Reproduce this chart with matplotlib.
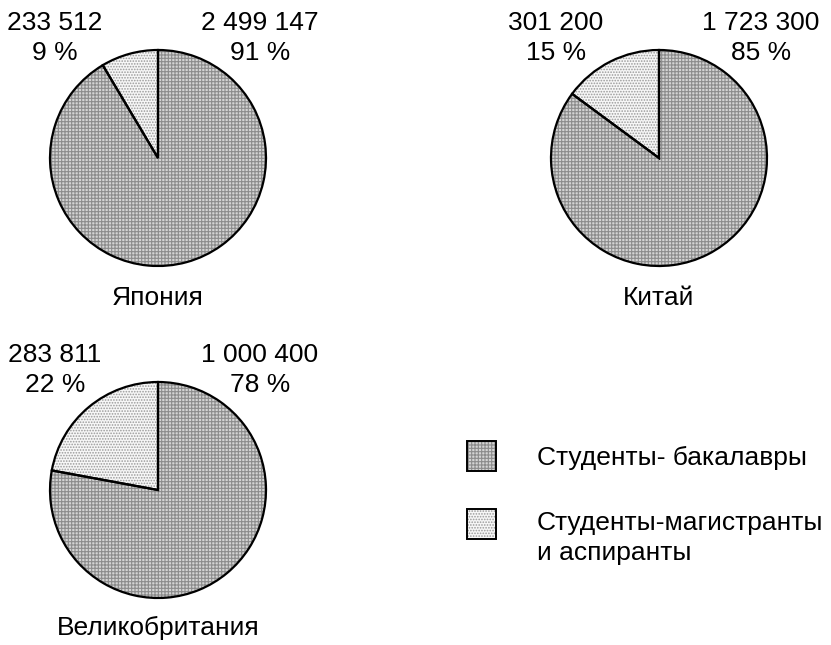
import matplotlib.pyplot as plt
from matplotlib.patches import Rectangle

plt.rcParams['font.family'] = ['Liberation Sans', 'DejaVu Sans']
plt.rcParams['hatch.linewidth'] = 0.8

# данные
countries = ["Япония", "Китай", "Великобритания"]
bachelors = [2499147, 1723300, 1000400]
masters = [233512, 301200, 283811]
bach_pct = [91, 85, 78]
mast_pct = [9, 15, 22]
legend_labels = ["Студенты- бакалавры", "Студенты-магистранты\nи аспиранты"]

def fmt(n):
    return f"{n:,}".replace(",", " ")

W, H = 831, 645
fig = plt.figure(figsize=(W / 100, H / 100), dpi=100)
ax = fig.add_axes([0, 0, 1, 1])

centers = [(158, 158), (659, 158), (158, 490)]
name_y = [298, 298, 628]
R = 108
col_b = '#d4d4d4'
col_m = '#f7f7f7'
hatch_b = '#8c8c8c'
hatch_m = '#9a9a9a'
FS = 19
LS = 1.3

for i, (cx, cy) in enumerate(centers):
    y = H - cy
    vals = [bachelors[i], masters[i]]
    # заливка с текстурой
    wedges, _ = ax.pie(vals, center=(cx, y), radius=R,
                       startangle=90, counterclock=False,
                       colors=[col_b, col_m],
                       wedgeprops=dict(linewidth=0))
    wedges[0].set_hatch('+++++')
    wedges[0].set_edgecolor(hatch_b)
    wedges[1].set_hatch('......')
    wedges[1].set_edgecolor(hatch_m)
    # контуры
    ax.pie(vals, center=(cx, y), radius=R, startangle=90, counterclock=False,
           wedgeprops=dict(fill=False, edgecolor='black', linewidth=1.6))
    # подписи
    ax.text(cx - 103, y + 120, f"{fmt(masters[i])}\n{mast_pct[i]} %",
            ha='center', va='center', fontsize=FS, linespacing=LS)
    ax.text(cx + 102, y + 120, f"{fmt(bachelors[i])}\n{bach_pct[i]} %",
            ha='center', va='center', fontsize=FS, linespacing=LS)
    ax.text(cx, H - name_y[i], countries[i], ha='center', va='center', fontsize=FS)

ax.set_xlim(0, W)
ax.set_ylim(0, H)
ax.set_aspect('equal')
ax.axis('off')

# легенда
for yy, c, hc, h in [(456, col_b, hatch_b, '+++++'), (524, col_m, hatch_m, '......')]:
    ax.add_patch(Rectangle((467, H - yy - 15), 29, 30, facecolor=c,
                           edgecolor=hc, linewidth=0, hatch=h))
    ax.add_patch(Rectangle((467, H - yy - 15), 29, 30, fill=False,
                           edgecolor='black', linewidth=1.4))
ax.text(537, H - 458, legend_labels[0], ha='left', va='center', fontsize=FS)
ax.text(537, H - 538, legend_labels[1], ha='left', va='center', fontsize=FS,
        linespacing=LS)

fig.savefig('out.png', dpi=100)
